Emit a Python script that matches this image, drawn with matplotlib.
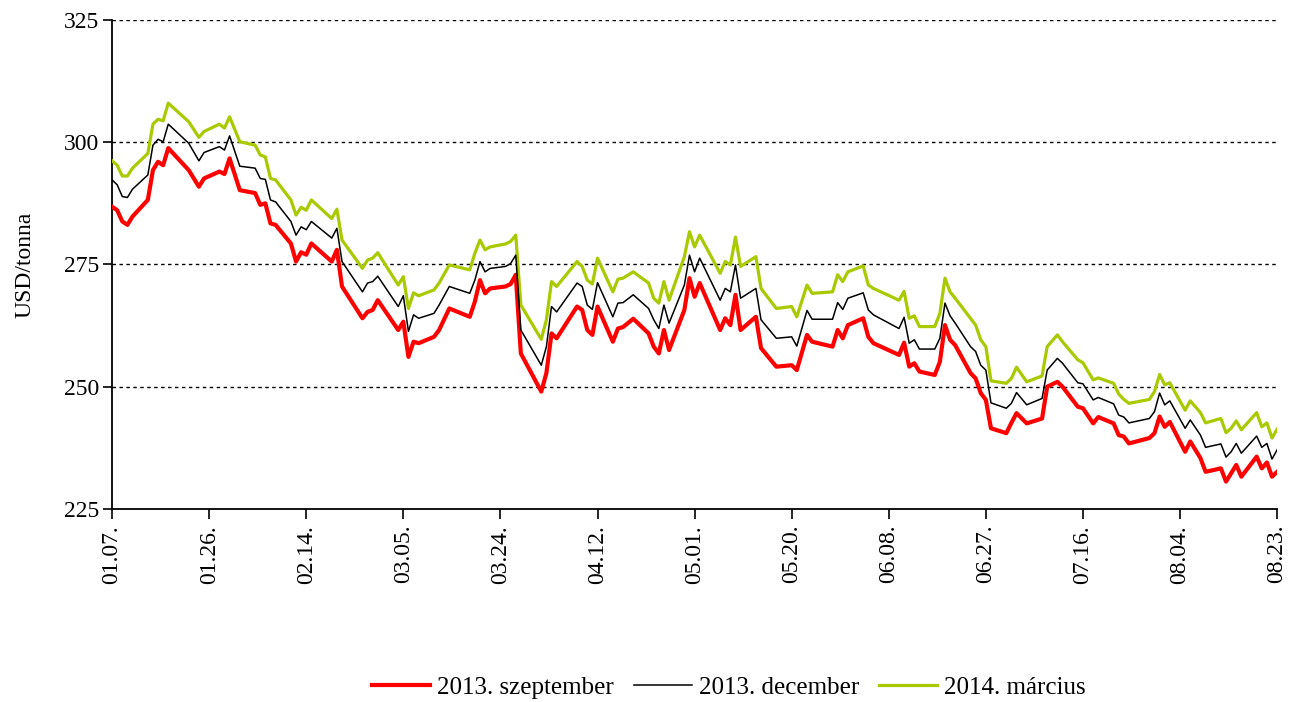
import matplotlib
matplotlib.use("Agg")
import matplotlib.pyplot as plt
import matplotlib.dates as mdates
import pandas as pd

plt.rcParams["font.family"] = ["Liberation Serif", "DejaVu Serif"]

# kereskedési napok (2013)
DATES = [
    "01-07", "01-08", "01-09", "01-10", "01-11", "01-14", "01-15", "01-16", "01-17", "01-18",
    "01-22", "01-24", "01-25", "01-28", "01-29", "01-30",
    "02-01", "02-04", "02-05", "02-06", "02-07", "02-08", "02-11", "02-12", "02-13", "02-14",
    "02-15", "02-19", "02-20", "02-21", "02-25", "02-26", "02-27", "02-28",
    "03-04", "03-05", "03-06", "03-07", "03-08", "03-11", "03-12", "03-14", "03-18", "03-19",
    "03-20", "03-21", "03-22", "03-25", "03-26", "03-27", "03-28",
    "04-01", "04-02", "04-03", "04-04", "04-08", "04-09", "04-10", "04-11", "04-12", "04-15",
    "04-16", "04-17", "04-19", "04-22", "04-23", "04-24", "04-25", "04-26", "04-29", "04-30",
    "05-01", "05-02", "05-06", "05-07", "05-08", "05-09", "05-10", "05-13", "05-14", "05-17",
    "05-20", "05-21", "05-23", "05-24", "05-28", "05-29", "05-30", "05-31",
    "06-03", "06-04", "06-05", "06-10", "06-11", "06-12", "06-13", "06-14", "06-17", "06-18",
    "06-19", "06-20", "06-21", "06-24", "06-25", "06-26", "06-27", "06-28",
    "07-01", "07-02", "07-03", "07-05", "07-08", "07-09", "07-11", "07-12", "07-15", "07-16",
    "07-18", "07-19", "07-22", "07-23", "07-24", "07-25", "07-29", "07-30", "07-31",
    "08-01", "08-02", "08-05", "08-06", "08-08", "08-09", "08-12", "08-13", "08-14", "08-15",
    "08-16", "08-19", "08-20", "08-21", "08-22", "08-23",
]

# 2013. szeptember
SZEPTEMBER = [
    286.8, 286.1, 283.8, 283.1, 284.8, 288.2, 294.3, 296.0, 295.3, 298.8,
    294.3, 290.9, 292.6, 294.0, 293.5, 296.7,
    290.2, 289.6, 287.2, 287.5, 283.4, 283.1, 279.3, 275.6, 277.5, 277.0,
    279.3, 275.6, 278.0, 270.5, 264.0, 265.3, 265.7, 267.7,
    261.6, 263.3, 256.1, 259.2, 258.9, 260.2, 261.6, 266.0, 264.3, 267.4,
    271.8, 269.1, 270.1, 270.5, 271.0, 272.9, 256.8,
    249.0, 252.8, 260.9, 259.9, 266.4, 265.7, 261.6, 260.6, 266.4, 259.2,
    261.9, 262.2, 263.9, 260.9, 258.2, 256.8, 261.6, 257.5, 265.7, 272.2,
    268.4, 271.2, 261.6, 264.0, 262.6, 268.8, 261.6, 264.3, 257.9, 254.1,
    254.4, 253.4, 260.6, 259.2, 258.2, 261.6, 259.9, 262.6,
    264.0, 260.2, 258.9, 256.5, 259.0, 254.1, 254.8, 253.1, 252.4, 255.1,
    262.6, 259.6, 258.5, 252.8, 251.7, 248.7, 247.3, 241.5,
    240.5, 242.6, 244.6, 242.5, 243.5, 250.0, 251.0, 250.0, 245.9, 245.6,
    242.5, 243.8, 242.5, 240.1, 239.8, 238.4, 239.5, 240.5, 243.9,
    241.8, 242.8, 236.7, 238.8, 235.4, 232.6, 233.3, 230.6, 232.3, 234.0,
    231.6, 235.7, 233.3, 234.5, 231.6, 232.6,
]

# 2013. december
DECEMBER = [
    292.3, 291.3, 288.9, 288.7, 290.4, 293.3, 299.4, 300.6, 300.1, 303.7,
    299.8, 296.2, 297.9, 299.1, 298.4, 301.3,
    295.1, 294.7, 292.6, 292.4, 288.2, 287.8, 283.8, 281.0, 282.7, 282.1,
    283.8, 280.4, 282.4, 275.6, 269.4, 271.2, 271.5, 272.6,
    266.4, 268.6, 261.3, 264.7, 264.0, 265.0, 266.7, 270.5, 269.1, 271.8,
    275.6, 273.5, 274.2, 274.6, 275.2, 276.9, 261.6,
    254.4, 258.2, 266.4, 265.3, 271.2, 270.5, 266.7, 265.8, 271.3, 264.3,
    267.1, 267.2, 268.8, 266.0, 263.7, 261.9, 266.7, 263.0, 270.8, 276.9,
    273.5, 276.3, 267.7, 270.1, 269.4, 274.9, 268.1, 270.1, 263.7, 259.9,
    260.2, 258.3, 265.6, 263.8, 263.8, 267.2, 265.8, 268.1,
    269.2, 265.7, 264.7, 261.9, 264.2, 258.9, 259.6, 257.7, 257.7, 259.9,
    267.1, 264.5, 263.0, 258.2, 257.2, 254.4, 253.4, 246.7,
    245.6, 246.6, 248.8, 246.3, 247.6, 253.4, 255.8, 254.8, 250.8, 250.6,
    247.3, 247.8, 246.5, 244.2, 243.8, 242.6, 243.5, 244.9, 248.7,
    246.3, 247.1, 241.5, 243.2, 240.1, 237.6, 238.3, 235.6, 236.7, 238.4,
    236.4, 239.9, 237.6, 238.4, 235.2, 237.1,
]

# 2014. március
MARCIUS = [
    296.2, 295.3, 293.1, 293.1, 294.7, 297.7, 303.7, 304.7, 304.4, 308.0,
    304.2, 301.0, 302.2, 303.7, 302.9, 305.2,
    300.1, 299.4, 297.4, 297.0, 292.6, 292.3, 288.2, 285.1, 286.7, 286.1,
    288.2, 284.4, 286.3, 280.0, 274.2, 275.9, 276.3, 277.4,
    270.8, 272.5, 266.0, 269.2, 268.6, 269.8, 271.2, 274.9, 273.9, 277.3,
    280.0, 278.0, 278.6, 279.2, 279.7, 281.0, 266.7,
    259.7, 263.7, 271.5, 270.5, 275.6, 274.6, 271.8, 271.0, 276.3, 269.4,
    272.0, 272.2, 273.5, 271.2, 268.1, 267.1, 271.5, 267.7, 276.6, 281.7,
    278.6, 281.0, 273.2, 275.6, 274.9, 280.6, 274.6, 276.6, 270.1, 266.0,
    266.4, 264.3, 270.8, 269.1, 269.4, 272.9, 271.5, 273.5,
    274.7, 270.8, 270.1, 267.7, 269.5, 264.0, 264.5, 262.3, 262.3, 265.0,
    272.2, 269.4, 268.1, 264.0, 262.6, 259.6, 258.2, 251.2,
    250.7, 251.7, 254.0, 251.0, 252.2, 258.2, 260.6, 259.2, 255.5, 254.9,
    251.4, 251.8, 250.7, 248.5, 247.4, 246.6, 247.4, 249.0, 252.5,
    250.4, 250.8, 245.2, 247.1, 244.7, 242.6, 243.5, 240.6, 241.5, 243.0,
    241.2, 244.7, 241.8, 242.6, 239.5, 241.3,
]

TICK_DATES = ["01-07", "01-26", "02-14", "03-05", "03-24", "04-12", "05-01",
              "05-20", "06-08", "06-27", "07-16", "08-04", "08-23"]

x = pd.to_datetime(["2013-" + d for d in DATES])
ticks = pd.to_datetime(["2013-" + d for d in TICK_DATES])

fig = plt.figure(figsize=(13, 7.02), dpi=100)
ax = fig.add_axes([0.0862, 0.275, 0.8962, 0.6965])

ax.plot(x, MARCIUS, color="#A9C900", lw=2.3, label="2014. március", zorder=3)
ax.plot(x, SZEPTEMBER, color="#FF0000", lw=3.0, label="2013. szeptember", zorder=4)
ax.plot(x, DECEMBER, color="black", lw=1.1, label="2013. december", zorder=5)

ax.set_ylim(225, 325)
ax.set_yticks([225, 250, 275, 300, 325])
ax.set_xlim(ticks[0], ticks[-1])
ax.set_xticks(ticks)
ax.xaxis.set_major_formatter(mdates.DateFormatter("%m.%d."))

# szaggatott rácsvonalak
for yv in [250, 275, 300, 325]:
    ax.axhline(yv, color="black", lw=1.0, ls=(0, (2.5, 2.5)), zorder=1)

for s in ["top", "right"]:
    ax.spines[s].set_visible(False)
ax.spines["left"].set_linewidth(1.3)
ax.spines["bottom"].set_linewidth(1.3)

ax.tick_params(axis="x", direction="out", length=7.5, width=1.2, labelsize=17,
               labelrotation=90, pad=4)
ax.tick_params(axis="y", direction="out", length=6.5, width=1.2, labelsize=17, pad=3)
ax.set_ylabel("USD/tonna", fontsize=17, labelpad=20)

h, l = ax.get_legend_handles_labels()
order = [1, 2, 0]
fig.legend([h[i] for i in order], [l[i] for i in order], loc="center",
           bbox_to_anchor=(0.561, 0.021), ncol=3, frameon=False, fontsize=18,
           handlelength=2.3, columnspacing=0.8, handletextpad=0.3)

fig.savefig("out.png", dpi=100)
